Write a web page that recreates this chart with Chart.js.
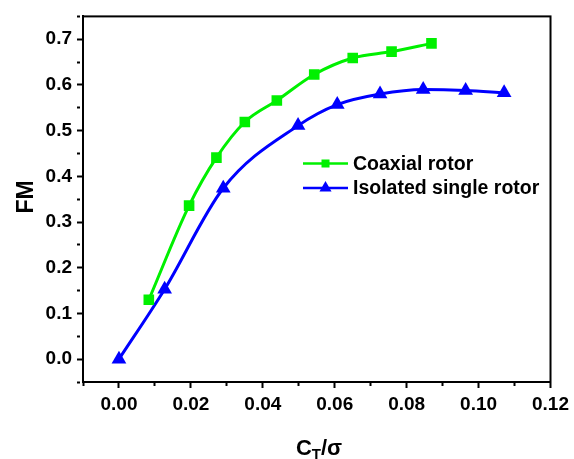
<!DOCTYPE html>
<html>
<head>
<meta charset="utf-8">
<script src="https://cdn.jsdelivr.net/npm/chart.js@4/dist/chart.umd.min.js"></script>
<style>
  html, body { margin: 0; padding: 0; background: #fff; }
  #wrap { width: 574px; height: 459px; position: relative; }
</style>
</head>
<body>
<div id="wrap"><canvas id="c" width="574" height="459"></canvas></div>
<script>
// Thrust coefficient / solidity vs figure of merit
const coaxialLabel = 'Coaxial rotor';
const coaxialCT = [0.0083, 0.0195, 0.0271, 0.0350, 0.0439, 0.0543, 0.0650, 0.0758, 0.0869];
const coaxialFM = [0.130, 0.336, 0.441, 0.519, 0.566, 0.623, 0.659, 0.673, 0.691];

const singleLabel = 'Isolated single rotor';
const singleCT = [0.0000, 0.0127, 0.0290, 0.0498, 0.0607, 0.0726, 0.0846, 0.0964, 0.1071];
const singleFM = [0.000, 0.153, 0.374, 0.511, 0.557, 0.580, 0.590, 0.588, 0.583];

const xTitleMain = 'C';
const xTitleSub = 'T';
const xTitleRest = '/σ';
const yTitle = 'FM';

const FONT = "'Liberation Sans', Arial, sans-serif";
const GREEN = '#00f000';
const BLUE = '#0000ff';

const toPoints = (xs, ys) => xs.map((x, i) => ({ x: x, y: ys[i] }));

// major/minor tick handling
const isMajorX = v => Math.round(v * 100) % 2 === 0;
const isMajorY = v => Math.round(v * 100) % 10 === 0;

// Frame, axis titles and in-plot legend
const decor = {
  id: 'decor',
  afterDraw(chart) {
    const ctx = chart.ctx;
    const a = chart.chartArea;
    ctx.save();
    ctx.strokeStyle = '#000';
    ctx.lineWidth = 2;
    ctx.strokeRect(a.left, a.top, a.right - a.left, a.bottom - a.top);

    // x title with subscript
    ctx.fillStyle = '#000';
    ctx.textBaseline = 'alphabetic';
    ctx.textAlign = 'left';
    ctx.font = 'bold 22px ' + FONT;
    const wC = ctx.measureText(xTitleMain).width;
    ctx.font = 'bold 15px ' + FONT;
    const wT = ctx.measureText(xTitleSub).width;
    ctx.font = 'bold 22px ' + FONT;
    const wR = ctx.measureText(xTitleRest).width;
    let x0 = 319 - (wC + wT + wR) / 2;
    ctx.fillText(xTitleMain, x0, 455);
    ctx.font = 'bold 15px ' + FONT;
    ctx.fillText(xTitleSub, x0 + wC, 459);
    ctx.font = 'bold 22px ' + FONT;
    ctx.fillText(xTitleRest, x0 + wC + wT, 455);

    // y title
    ctx.save();
    ctx.translate(27, 197);
    ctx.rotate(-Math.PI / 2);
    ctx.textAlign = 'center';
    ctx.textBaseline = 'middle';
    ctx.font = 'bold 23px ' + FONT;
    ctx.fillText(yTitle, 0, 0);
    ctx.restore();

    // legend
    const rows = [
      { ds: chart.data.datasets[0], y: 163.5 },
      { ds: chart.data.datasets[1], y: 188 }
    ];
    rows.forEach(r => {
      ctx.strokeStyle = r.ds.borderColor;
      ctx.fillStyle = r.ds.borderColor;
      ctx.lineWidth = 2.5;
      ctx.beginPath();
      ctx.moveTo(303, r.y);
      ctx.lineTo(348, r.y);
      ctx.stroke();
      const mx = 325.5;
      if (r.ds.pointStyle === 'rect') {
        ctx.fillRect(mx - 4, r.y - 4, 8, 8);
      } else {
        const rr = 7;
        ctx.beginPath();
        ctx.moveTo(mx, r.y - rr);
        ctx.lineTo(mx + 0.866 * rr, r.y + 0.5 * rr);
        ctx.lineTo(mx - 0.866 * rr, r.y + 0.5 * rr);
        ctx.closePath();
        ctx.fill();
      }
      ctx.fillStyle = '#000';
      ctx.font = 'bold 19.5px ' + FONT;
      ctx.textAlign = 'left';
      ctx.textBaseline = 'middle';
      ctx.fillText(r.ds.label, 353, r.y + 1);
    });
    ctx.restore();
  }
};

new Chart(document.getElementById('c'), {
  type: 'line',
  data: {
    datasets: [
      {
        label: coaxialLabel,
        data: toPoints(coaxialCT, coaxialFM),
        borderColor: GREEN,
        backgroundColor: GREEN,
        borderWidth: 3,
        pointStyle: 'rect',
        pointRadius: 7.5,
        pointBorderWidth: 0,
        cubicInterpolationMode: 'monotone',
        fill: false
      },
      {
        label: singleLabel,
        data: toPoints(singleCT, singleFM),
        borderColor: BLUE,
        backgroundColor: BLUE,
        borderWidth: 3,
        pointStyle: 'triangle',
        pointRadius: 8.5,
        pointBorderWidth: 0,
        cubicInterpolationMode: 'monotone',
        fill: false
      }
    ]
  },
  options: {
    responsive: false,
    animation: false,
    events: [],
    layout: { padding: { top: 14, right: 19, left: 0, bottom: 0 } },
    plugins: { legend: { display: false }, tooltip: { enabled: false } },
    scales: {
      x: {
        type: 'linear',
        min: -0.01,
        max: 0.12,
        afterFit(s) { s.height = 77; },
        border: { display: true, color: '#000', width: 2 },
        grid: {
          display: true,
          drawOnChartArea: false,
          drawTicks: true,
          tickLength: 6,
          tickWidth: 2,
          tickColor: '#000',
          tickBorderDash: ctx => (ctx.tick && !isMajorX(ctx.tick.value)) ? [3, 30] : []
        },
        ticks: {
          stepSize: 0.01,
          autoSkip: false,
          maxRotation: 0,
          padding: 5,
          color: '#000',
          font: { family: FONT, size: 19, weight: 'bold' },
          callback: v => isMajorX(v) ? v.toFixed(2) : ''
        }
      },
      y: {
        type: 'linear',
        min: -0.05,
        max: 0.75,
        afterFit(s) { s.width = 83; },
        border: { display: true, color: '#000', width: 2 },
        grid: {
          display: true,
          drawOnChartArea: false,
          drawTicks: true,
          tickLength: 6,
          tickWidth: 2,
          tickColor: '#000',
          tickBorderDash: ctx => (ctx.tick && !isMajorY(ctx.tick.value)) ? [3, 30] : []
        },
        ticks: {
          stepSize: 0.05,
          autoSkip: false,
          padding: 5,
          color: '#000',
          font: { family: FONT, size: 19, weight: 'bold' },
          callback: v => isMajorY(v) ? v.toFixed(1) : ''
        }
      }
    }
  },
  plugins: [decor]
});
</script>
</body>
</html>
